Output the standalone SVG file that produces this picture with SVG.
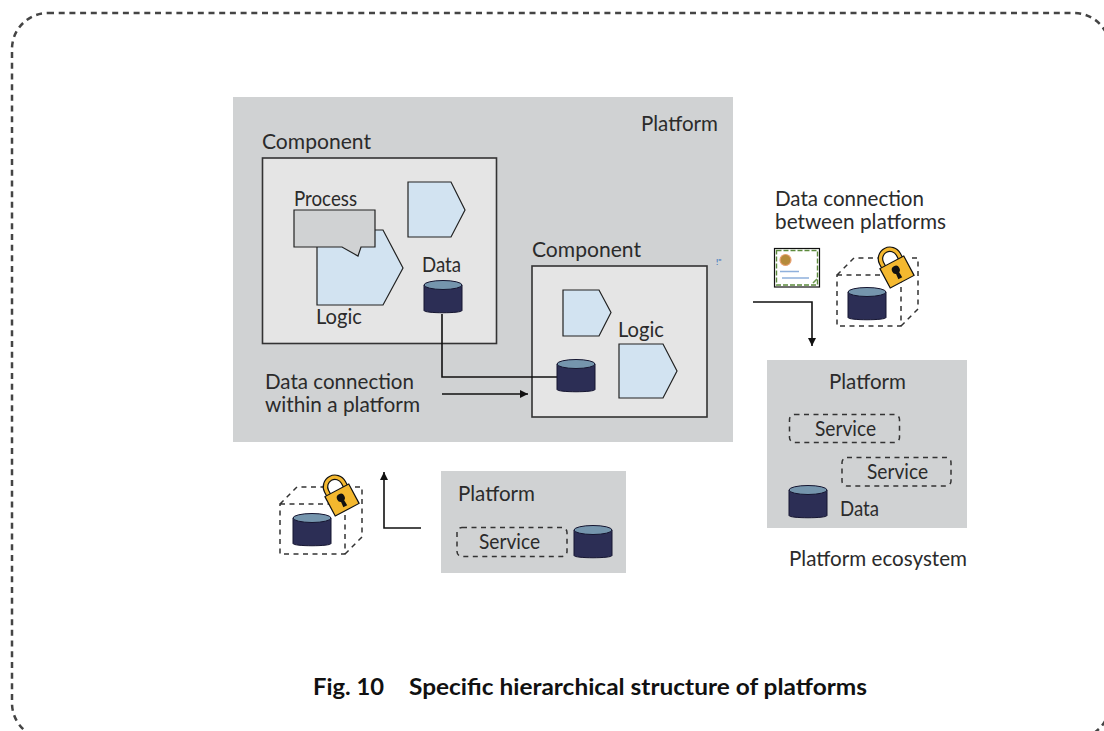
<svg xmlns="http://www.w3.org/2000/svg" width="1104" height="731" viewBox="0 0 1104 731">
<style>
text{font-family:"Lato","Noto Sans","Liberation Sans",sans-serif;font-size:20.5px;fill:#2b2b2b}
.cap{font-weight:700;font-size:22px;fill:#111}
.plat{fill:#d0d2d3}
.comp{fill:#e5e5e5;stroke:#333;stroke-width:1.6}
.logic{fill:#d2e3f1;stroke:#222;stroke-width:1.2}
.wire{fill:none;stroke:#111;stroke-width:1.6}
.dash{fill:none;stroke:#333;stroke-width:1.5;stroke-dasharray:5 4.500}
.cylb{fill:#2c2e55;stroke:#151530;stroke-width:1}
.cylt{fill:#7595ad;stroke:#151530;stroke-width:1}
.lockb{fill:#f4b82f;stroke:#111;stroke-width:1.2}
.locks{fill:none;stroke:#111;stroke-width:5.6}
.locki{fill:none;stroke:#f4b82f;stroke-width:3.2}
</style>
<defs>
<marker id="ah" markerWidth="9" markerHeight="9" refX="8" refY="4" orient="auto" markerUnits="userSpaceOnUse"><path d="M0 0L8 4L0 8Z" fill="#111"/></marker>
<g id="cyl"><path class="cylb" d="M0 0V25.500C0 28.500 38 28.500 38 25.500V0Z"/><ellipse class="cylt" cx="19" cy="0" rx="19" ry="4.500"/></g>
<g id="lock"><path class="locks" d="M-9.500 -9V-15A9.500 9.500 0 0 1 9.500 -15V-9"/><path class="locki" d="M-9.500 -9V-15A9.500 9.500 0 0 1 9.500 -15V-9"/><rect class="lockb" x="-13.500" y="-11" width="27" height="22"/><circle cx="0" cy="-2.500" r="4" fill="#111"/><path d="M-1.600 -1H1.600L2.200 7H-2.200Z" fill="#111"/></g>
</defs>
<rect id="frame" x="12" y="13" width="1098" height="726" rx="36" ry="36" fill="none" stroke="#444" stroke-width="2.500" stroke-dasharray="6 4.700"/>
<g id="platform-main"><rect class="plat" x="233" y="97" width="500" height="345"/><text x="641" y="131" textLength="77" lengthAdjust="spacingAndGlyphs">Platform</text></g>
<g id="component-1"><rect class="comp" x="262.500" y="158" width="234" height="185.500"/><text x="262" y="149" textLength="109" lengthAdjust="spacingAndGlyphs">Component</text></g>
<g id="logic-1"><path class="logic" d="M317 230H383L403 268L383 305H317Z"/><text x="316" y="324" textLength="46" lengthAdjust="spacingAndGlyphs">Logic</text></g>
<g id="process"><path d="M294 210H375V247H361L358 256L342 247H294Z" fill="#d0d2d3" stroke="#222" stroke-width="1.200"/><text x="294" y="206" textLength="63" lengthAdjust="spacingAndGlyphs">Process</text></g>
<g id="logic-2"><path class="logic" d="M408 182H451L465 210L451 237H408Z"/></g>
<g id="data-1"><use href="#cyl" x="424" y="285"/><text x="422" y="272" textLength="39" lengthAdjust="spacingAndGlyphs">Data</text></g>
<g id="component-2"><rect class="comp" x="532" y="266" width="175" height="151"/><text x="532" y="257" textLength="109" lengthAdjust="spacingAndGlyphs">Component</text></g>
<g id="logic-3"><path class="logic" d="M563 290H599L611 312.500L599 336H563Z"/></g>
<g id="logic-4"><path class="logic" d="M619 344H663L677 371L663 398H619Z"/><text x="618" y="337" textLength="46" lengthAdjust="spacingAndGlyphs">Logic</text></g>
<g id="connectors">
<path class="wire" d="M442 314V377H557"/>
<path class="wire" d="M442 394H528" marker-end="url(#ah)"/>
<path class="wire" d="M753 302H812V346" marker-end="url(#ah)"/>
<path class="wire" d="M421 528H384V472" marker-end="url(#ah)"/>
</g>
<g id="data-2"><use href="#cyl" x="557" y="364"/></g>
<text x="716" y="265" style="font-size:8px;font-weight:700;fill:#4a7fc0">!"</text>
<g id="label-within"><text x="265" y="389" textLength="149" lengthAdjust="spacingAndGlyphs">Data connection</text><text x="265" y="412" textLength="155" lengthAdjust="spacingAndGlyphs">within a platform</text></g>
<g id="label-between"><text x="775" y="206" textLength="149" lengthAdjust="spacingAndGlyphs">Data connection</text><text x="775" y="229" textLength="171" lengthAdjust="spacingAndGlyphs">between platforms</text></g>
<g id="certificate"><rect x="774.500" y="248.500" width="45" height="38.500" fill="#fff" stroke="#111" stroke-width="1.200"/><rect x="776.500" y="250.500" width="41" height="34.500" fill="none" stroke="#5c8a3c" stroke-width="1.400" stroke-dasharray="5 2"/><circle cx="785.500" cy="260" r="5.500" fill="#b58a3a" stroke="#e8a070" stroke-width="1.200"/><path d="M780 271.500H799M782 278H809" stroke="#8fb0dc" stroke-width="1.400" fill="none"/><path d="M813 283L817 279" stroke="#6f9a50" stroke-width="1.600" fill="none"/></g>
<g id="secure-1"><path class="dash" d="M837 275H901V326H837ZM837 275L854 258H880M912 258H918V309L901 326"/><use href="#cyl" x="848" y="292"/><use href="#lock" transform="translate(897 272) rotate(-28)"/></g>
<g id="platform-right"><rect class="plat" x="767" y="360" width="200" height="168"/><text x="829" y="389" textLength="77" lengthAdjust="spacingAndGlyphs">Platform</text></g>
<g id="service-1"><rect class="dash" x="789.500" y="414.500" width="110" height="28" rx="5"/><text x="815" y="436" textLength="61" lengthAdjust="spacingAndGlyphs">Service</text></g>
<g id="service-2"><rect class="dash" x="842" y="457.500" width="109" height="28.500" rx="5"/><text x="867" y="479" textLength="61" lengthAdjust="spacingAndGlyphs">Service</text></g>
<g id="data-3"><use href="#cyl" x="789" y="490"/><text x="840" y="516" textLength="39" lengthAdjust="spacingAndGlyphs">Data</text></g>
<text x="789" y="566" textLength="178" lengthAdjust="spacingAndGlyphs">Platform ecosystem</text>
<g id="platform-bottom"><rect class="plat" x="441" y="471" width="185" height="102"/><text x="458" y="501" textLength="77" lengthAdjust="spacingAndGlyphs">Platform</text></g>
<g id="service-3"><rect class="dash" x="457" y="527.500" width="110" height="29" rx="5"/><text x="479" y="549" textLength="61" lengthAdjust="spacingAndGlyphs">Service</text></g>
<g id="data-4"><use href="#cyl" x="574" y="530"/></g>
<g id="secure-2"><path class="dash" d="M280 504H345V554H280ZM280 504L297 487H323M355 487H362V537L345 554"/><use href="#cyl" x="293" y="518"/><use href="#lock" transform="translate(342 500) rotate(-28)"/></g>
<g id="caption"><text class="cap" x="313" y="695" textLength="71" lengthAdjust="spacingAndGlyphs">Fig. 10</text><text class="cap" x="409" y="695" textLength="458" lengthAdjust="spacingAndGlyphs">Specific hierarchical structure of platforms</text></g>
</svg>
